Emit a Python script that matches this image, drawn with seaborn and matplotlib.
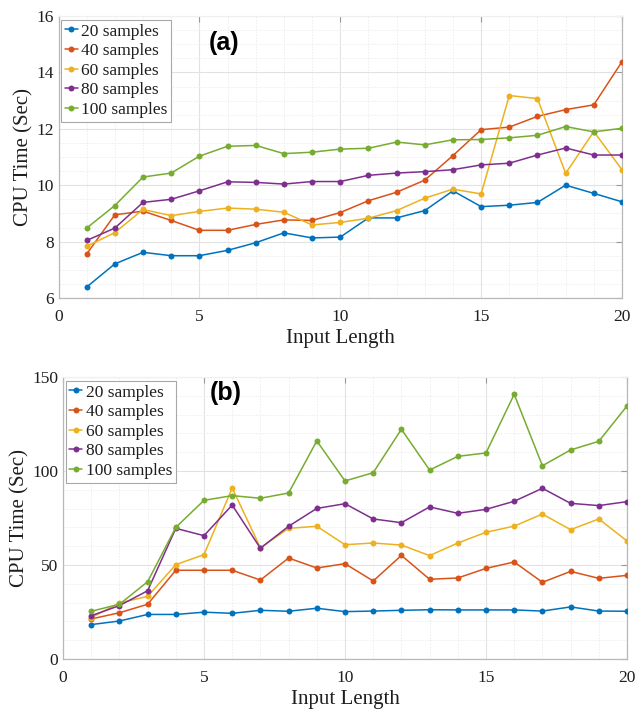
import matplotlib
matplotlib.use("Agg")
import matplotlib.pyplot as plt
from matplotlib.ticker import MultipleLocator
import pandas as pd
import seaborn as sns

# ---------------- data ----------------
input_length = [1, 2, 3, 4, 5, 6, 7, 8, 9, 10, 11, 12, 13, 14, 15, 16, 17, 18, 19, 20]
series_labels = ["20 samples", "40 samples", "60 samples", "80 samples", "100 samples"]

a_20 = [6.39, 7.21, 7.62, 7.50, 7.50, 7.69, 7.96, 8.31, 8.13, 8.16, 8.84, 8.84, 9.10, 9.80, 9.24, 9.29, 9.39, 10.0, 9.71, 9.41]
a_40 = [7.56, 8.95, 9.08, 8.75, 8.40, 8.40, 8.61, 8.77, 8.75, 9.03, 9.45, 9.75, 10.18, 11.05, 11.97, 12.06, 12.44, 12.68, 12.85, 14.38]
a_60 = [7.83, 8.32, 9.14, 8.92, 9.07, 9.19, 9.15, 9.04, 8.59, 8.68, 8.83, 9.10, 9.54, 9.86, 9.69, 13.18, 13.07, 10.42, 11.90, 10.55]
a_80 = [8.04, 8.48, 9.39, 9.50, 9.80, 10.12, 10.10, 10.04, 10.13, 10.13, 10.35, 10.43, 10.48, 10.55, 10.72, 10.78, 11.07, 11.32, 11.07, 11.07]
a_100 = [8.48, 9.28, 10.29, 10.43, 11.03, 11.38, 11.41, 11.12, 11.17, 11.28, 11.31, 11.53, 11.43, 11.61, 11.62, 11.68, 11.77, 12.08, 11.89, 12.02]

b_20 = [18.3, 20.2, 23.7, 23.7, 24.9, 24.3, 25.9, 25.4, 27.0, 25.2, 25.5, 25.9, 26.2, 26.1, 26.1, 26.1, 25.5, 27.7, 25.5, 25.4]
b_40 = [21.3, 24.6, 29.1, 47.2, 47.2, 47.2, 42.0, 53.7, 48.4, 50.7, 41.5, 55.1, 42.4, 43.1, 48.2, 51.6, 40.8, 46.6, 42.9, 44.5]
b_60 = [22.0, 29.8, 33.3, 50.2, 55.5, 91.0, 59.2, 69.5, 70.6, 60.8, 61.7, 60.6, 55.0, 61.7, 67.4, 70.7, 77.1, 68.8, 74.5, 62.8]
b_80 = [23.0, 28.4, 36.3, 69.5, 65.6, 81.9, 58.9, 70.6, 80.1, 82.6, 74.5, 72.5, 80.9, 77.5, 79.6, 83.9, 90.8, 82.8, 81.6, 83.7]
b_100 = [25.4, 29.1, 41.1, 70.0, 84.4, 86.9, 85.5, 88.3, 116.0, 94.7, 99.1, 122.2, 100.5, 107.8, 109.6, 140.8, 102.8, 111.2, 115.8, 134.6]

x_ticks = [0, 5, 10, 15, 20]
a_yticks = [6, 8, 10, 12, 14, 16]
b_yticks = [0, 50, 100, 150]
panel_tags = ["(a)", "(b)"]
x_label = "Input Length"
y_label = "CPU Time (Sec)"

colors = ["#0072BD", "#D95319", "#EDB120", "#7E2F8E", "#77AC30"]


def long_frame(series):
    rows = []
    for lab, vals in zip(series_labels, series):
        for x, v in zip(input_length, vals):
            rows.append({"x": x, "y": v, "series": lab})
    return pd.DataFrame(rows)


df_a = long_frame([a_20, a_40, a_60, a_80, a_100])
df_b = long_frame([b_20, b_40, b_60, b_80, b_100])

sns.set_theme(style="white")
plt.rcParams["font.family"] = ["Liberation Serif", "DejaVu Serif"]

W, H = 637, 713
fig = plt.figure(figsize=(W / 100, H / 100), dpi=100)
ax_a = fig.add_axes([58.5 / W, 1 - 298 / H, (622 - 58.5) / W, 282 / H])
ax_b = fig.add_axes([63 / W, 1 - 659 / H, (627 - 63) / W, 282 / H])

spine_c = "#b8b8b8"
txt_c = "#1e1e1e"


def style_axes(ax, df, ylim, yticks, yminor, tag, tag_xy):
    sns.lineplot(data=df, x="x", y="y", hue="series", hue_order=series_labels,
                 palette=colors, marker="o", markersize=4.3, markeredgewidth=0,
                 linewidth=1.1, legend=False, ax=ax, zorder=3)
    ax.set_xlim(0, 20)
    ax.set_ylim(*ylim)
    ax.set_xticks(x_ticks)
    ax.set_yticks(yticks)
    ax.xaxis.set_minor_locator(MultipleLocator(1))
    ax.yaxis.set_minor_locator(MultipleLocator(yminor))
    ax.grid(which="major", color="#e2e2e2", linewidth=0.8, linestyle="-", zorder=0)
    ax.grid(which="minor", color="#ededed", linewidth=0.7, linestyle=(0, (1.5, 1.5)), zorder=0)
    ax.set_axisbelow(True)
    for s in ax.spines.values():
        s.set_visible(True)
        s.set_color(spine_c)
        s.set_linewidth(0.9)
    ax.spines["top"].set_color("#f0f0f0")
    ax.tick_params(which="major", direction="in", top=True, right=True, length=4.5,
                   width=0.8, color="#9a9a9a", labelsize=12.5, labelcolor=txt_c)
    ax.tick_params(axis="x", which="major", pad=8)
    ax.tick_params(axis="y", which="major", pad=3.5)
    ax.tick_params(which="minor", length=0)
    ax.set_xlabel(x_label, fontsize=15, color=txt_c, labelpad=3)
    ax.set_ylabel(y_label, fontsize=15, color=txt_c, labelpad=2)
    handles = ax.lines[:len(series_labels)]
    leg = ax.legend(handles=handles, labels=series_labels, loc="upper left",
                    bbox_to_anchor=(0.005, 0.986), borderaxespad=0, fontsize=12.5,
                    handlelength=0.75, handletextpad=0.2, labelspacing=0.2,
                    borderpad=0.2, fancybox=False, framealpha=1, edgecolor="#a8a8a8")
    leg.get_frame().set_linewidth(0.8)
    for t in leg.get_texts():
        t.set_color(txt_c)
    ax.text(tag_xy[0], tag_xy[1], tag, transform=ax.transAxes, fontsize=18, fontweight="bold",
            family=["Liberation Sans", "DejaVu Sans"], ha="center", va="center", color="black")


style_axes(ax_a, df_a, (6, 16), a_yticks, 0.5, panel_tags[0], (0.294, 0.904))
style_axes(ax_b, df_b, (0, 150), b_yticks, 10, panel_tags[1], (0.288, 0.945))

fig.savefig("out.png", dpi=100)
